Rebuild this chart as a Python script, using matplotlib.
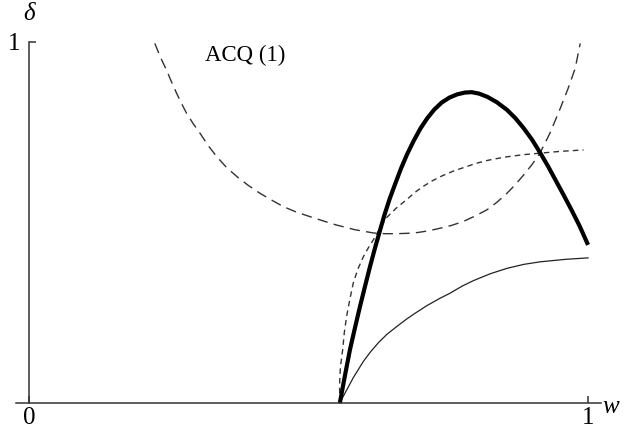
import matplotlib
matplotlib.use("Agg")
import matplotlib.pyplot as plt

plt.rcParams['font.family'] = ['Liberation Serif', 'DejaVu Serif']

# curves (w, delta)
thick_w = [0.556, 0.565, 0.574, 0.583, 0.592, 0.601, 0.610, 0.619, 0.628, 0.636,
           0.645, 0.655, 0.665, 0.676, 0.688, 0.700, 0.712, 0.725, 0.738, 0.752,
           0.766, 0.780, 0.792, 0.805, 0.820, 0.837, 0.855, 0.870, 0.885, 0.900,
           0.914, 0.928, 0.942, 0.956, 0.970, 0.985, 1.0]
thick_d = [0.0, 0.075, 0.147, 0.208, 0.267, 0.323, 0.378, 0.430, 0.479, 0.522,
           0.565, 0.607, 0.648, 0.688, 0.726, 0.760, 0.788, 0.813, 0.832, 0.846,
           0.855, 0.860, 0.861, 0.857, 0.848, 0.833, 0.812, 0.789, 0.761, 0.729,
           0.694, 0.657, 0.617, 0.577, 0.536, 0.490, 0.438]

short_w = [0.556, 0.5555, 0.557, 0.561, 0.564, 0.568, 0.574, 0.580, 0.588, 0.598,
           0.607, 0.616, 0.628, 0.640, 0.657, 0.676, 0.690, 0.705, 0.722, 0.740,
           0.760, 0.783, 0.800, 0.820, 0.840, 0.855, 0.885, 0.914, 0.950, 0.992]
short_d = [0.0, 0.050, 0.100, 0.147, 0.195, 0.239, 0.288, 0.332, 0.370, 0.405,
           0.430, 0.452, 0.485, 0.514, 0.540, 0.564, 0.583, 0.600, 0.616, 0.630,
           0.643, 0.655, 0.664, 0.672, 0.678, 0.682, 0.688, 0.692, 0.697, 0.701]

long_w = [0.225, 0.235, 0.246, 0.255, 0.264, 0.273, 0.282, 0.294, 0.306, 0.320,
          0.336, 0.353, 0.372, 0.392, 0.413, 0.434, 0.455, 0.478, 0.503, 0.527,
          0.550, 0.583, 0.616, 0.637, 0.658, 0.676, 0.694, 0.715, 0.735, 0.756,
          0.777, 0.798, 0.819, 0.837, 0.855, 0.870, 0.885, 0.900, 0.914, 0.932,
          0.950, 0.964, 0.977, 0.986]
long_d = [0.996, 0.958, 0.922, 0.889, 0.858, 0.829, 0.802, 0.773, 0.747, 0.714,
          0.682, 0.653, 0.627, 0.603, 0.581, 0.562, 0.544, 0.529, 0.516, 0.504,
          0.493, 0.480, 0.471, 0.469, 0.469, 0.470, 0.472, 0.477, 0.484, 0.492,
          0.503, 0.518, 0.535, 0.556, 0.581, 0.605, 0.632, 0.661, 0.692, 0.748,
          0.815, 0.870, 0.927, 0.996]

thin_w = [0.556, 0.563, 0.570, 0.580, 0.590, 0.598, 0.610, 0.625, 0.640, 0.658,
          0.675, 0.690, 0.712, 0.735, 0.753, 0.775, 0.795, 0.825, 0.855, 0.885,
          0.914, 0.960, 1.0]
thin_d = [0.0, 0.021, 0.041, 0.070, 0.095, 0.115, 0.140, 0.167, 0.190, 0.212,
          0.232, 0.248, 0.270, 0.290, 0.304, 0.324, 0.339, 0.358, 0.373, 0.384,
          0.391, 0.398, 0.402]

fig = plt.figure(figsize=(6.32, 4.37), dpi=100)
ax = fig.add_axes([0.0247, 0.0778, 0.9261, 0.8261])

ax.plot(thin_w, thin_d, color='#222222', lw=0.9, clip_on=False)
ax.plot(long_w, long_d, color='#333333', lw=1.0, linestyle=(0, (7.5, 4.5)), clip_on=False)
ax.plot(short_w, short_d, color='#333333', lw=1.0, linestyle=(0, (4, 3)), clip_on=False)
ax.plot(thick_w, thick_d, color='black', lw=3.0, solid_capstyle='butt', clip_on=False)

ax.set_xlim(-0.024, 1.023)
ax.set_ylim(0, 1)

for s in ['top', 'right']:
    ax.spines[s].set_visible(False)
ax.spines['left'].set_position(('data', 0))
ax.spines['left'].set_bounds(0, 1)
for s in ['left', 'bottom']:
    ax.spines[s].set_color('#333333')
    ax.spines[s].set_linewidth(1.1)

ax.set_xticks([0, 1])
ax.set_xticklabels(['0', '1'])
ax.set_yticks([1])
ax.set_yticklabels(['1'])
ax.tick_params(axis='x', direction='in', length=5, width=1.1, color='#333333',
               labelsize=18, pad=3)
ax.tick_params(axis='y', direction='in', length=5, width=1.1, color='#333333',
               labelsize=18, pad=6)

ax.text(0.0, 1.078, 'δ', fontsize=18, fontstyle='italic', ha='center', va='center')
ax.text(1.041, -0.011, 'w', fontsize=18, fontstyle='italic', ha='center', va='center')
ax.text(0.386, 0.964, 'ACQ (1)', fontsize=16.5, ha='center', va='center')

fig.savefig('out.png', dpi=100)
